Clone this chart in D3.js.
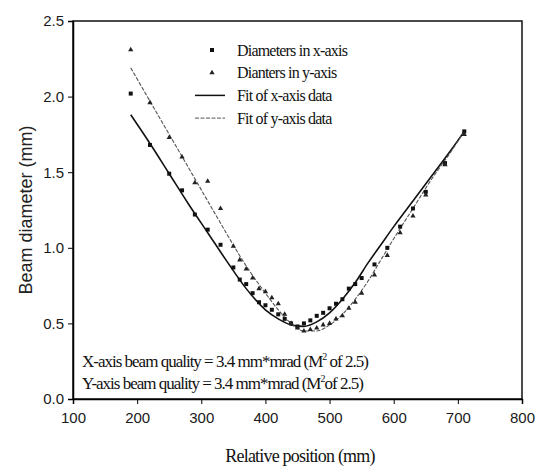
<!DOCTYPE html>
<html>
<head>
<meta charset="utf-8">
<script src="https://cdn.jsdelivr.net/npm/d3@7"></script>
<style>
  body { margin: 0; background: #fff; }
  .tick text { font-family: "Liberation Sans", Arial, sans-serif; font-size: 15px; fill: #1a1a1a; }
  .serif { font-family: "Liberation Serif", "Times New Roman", serif; fill: #111; }
</style>
</head>
<body>
<svg width="541" height="470"></svg>
<script>
// measured positions (mm) and diameters (mm)
var positions = [190,220,250,270,290,310,330,350,360,370,380,390,400,410,420,430,440,450,460,470,480,490,500,510,520,530,540,550,570,590,610,630,650,680,710];
var diamX = [2.02,1.68,1.49,1.38,1.22,1.12,1.02,0.87,0.79,0.76,0.70,0.64,0.62,0.59,0.56,0.53,0.50,0.48,0.50,0.52,0.55,0.57,0.60,0.63,0.66,0.73,0.76,0.80,0.89,1.00,1.14,1.26,1.37,1.56,1.77];
var diamY = [2.31,1.96,1.73,1.60,1.43,1.44,1.26,1.01,0.92,0.86,0.80,0.73,0.71,0.67,0.63,0.56,0.50,0.47,0.45,0.46,0.47,0.49,0.50,0.53,0.55,0.60,0.64,0.70,0.82,0.95,1.10,1.21,1.35,1.55,1.75];

// fit curves
var fitPos = [190,220,250,280,310,340,370,400,420,440,460,480,500,520,540,560,580,600,630,660,690,710];
var fitX = [1.88,1.69,1.49,1.29,1.10,0.91,0.73,0.59,0.53,0.49,0.48,0.51,0.57,0.66,0.77,0.90,1.02,1.14,1.31,1.48,1.65,1.77];
var fitY = [2.19,1.97,1.75,1.53,1.31,1.09,0.88,0.70,0.59,0.50,0.45,0.45,0.49,0.56,0.66,0.78,0.92,1.06,1.26,1.46,1.64,1.77];

var xTicks = [100,200,300,400,500,600,700,800];
var yTicks = [0.0,0.5,1.0,1.5,2.0,2.5];
var legendLabels = ["Diameters in x-axis", "Dianters in y-axis", "Fit of x-axis data", "Fit of y-axis data"];

var svg = d3.select("svg"),
    margin = {top: 21, right: 19, bottom: 71, left: 73},
    width = +svg.attr("width") - margin.left - margin.right,
    height = +svg.attr("height") - margin.top - margin.bottom,
    g = svg.append("g").attr("transform", "translate(" + margin.left + "," + margin.top + ")");

var x = d3.scaleLinear().domain([100, 800]).range([0, width]);
var y = d3.scaleLinear().domain([0, 2.5]).range([height, 0]);

// frame
g.append("rect")
    .attr("width", width)
    .attr("height", height)
    .attr("fill", "none")
    .attr("stroke", "#111")
    .attr("stroke-width", 1.5);

g.append("g")
    .attr("transform", "translate(0," + height + ")")
    .call(d3.axisBottom(x).tickValues(xTicks).tickSize(5).tickPadding(8).tickFormat(d3.format("d")))
    .call(function(a) { a.select(".domain").attr("stroke-width", 1.5); });

g.append("g")
    .call(d3.axisLeft(y).tickValues(yTicks).tickSize(5).tickPadding(4).tickFormat(d3.format(".1f")))
    .call(function(a) { a.select(".domain").attr("stroke-width", 1.5); });

var line = d3.line().curve(d3.curveMonotoneX);

g.append("path")
    .attr("d", line(fitPos.map(function(p, i) { return [x(p), y(fitX[i])]; })))
    .attr("fill", "none")
    .attr("stroke", "#111")
    .attr("stroke-width", 1.6);

g.append("path")
    .attr("d", line(fitPos.map(function(p, i) { return [x(p), y(fitY[i])]; })))
    .attr("fill", "none")
    .attr("stroke", "#555")
    .attr("stroke-width", 1.1)
    .attr("stroke-dasharray", "4,1.5");

var sq = d3.symbol().type(d3.symbolSquare).size(16);
var tri = d3.symbol().type(d3.symbolTriangle).size(12);

g.selectAll(".px").data(positions).enter().append("path")
    .attr("class", "px")
    .attr("d", sq)
    .attr("fill", "#111")
    .attr("transform", function(d, i) { return "translate(" + x(d) + "," + y(diamX[i]) + ")"; });

g.selectAll(".py").data(positions).enter().append("path")
    .attr("class", "py")
    .attr("d", tri)
    .attr("fill", "#222")
    .attr("transform", function(d, i) { return "translate(" + x(d) + "," + y(diamY[i]) + ")"; });

// legend
var legend = svg.append("g").attr("transform", "translate(212,50)");
legendLabels.forEach(function(t, i) {
  var row = legend.append("g").attr("transform", "translate(0," + (i * 22.7) + ")");
  if (i == 0) row.append("path").attr("d", sq).attr("fill", "#111");
  if (i == 1) row.append("path").attr("d", tri).attr("fill", "#222");
  if (i == 2) row.append("line").attr("x1", -17).attr("x2", 13).attr("stroke", "#111").attr("stroke-width", 1.5);
  if (i == 3) row.append("line").attr("x1", -17).attr("x2", 13).attr("stroke", "#777").attr("stroke-width", 1.1).attr("stroke-dasharray", "4,1.5");
  row.append("text")
      .attr("class", "serif")
      .attr("x", 25)
      .attr("dy", "0.35em")
      .style("font-size", "16px")
      .style("letter-spacing", "-0.8px")
      .text(t);
});

// beam quality notes
var notes = [["X-axis beam quality = 3.4 mm*mrad (M", " of 2.5)"], ["Y-axis beam quality = 3.4 mm*mrad (M", "of 2.5)"]];
notes.forEach(function(n, i) {
  var t = svg.append("text")
      .attr("class", "serif")
      .attr("x", 82)
      .attr("y", 367 + i * 22)
      .style("font-size", "17px")
      .style("letter-spacing", "-1px");
  t.append("tspan").text(n[0]);
  t.append("tspan").attr("dy", -7).style("font-size", "10px").text("2");
  t.append("tspan").attr("dy", 7).text(n[1]);
});

svg.append("text")
    .attr("transform", "translate(32," + (margin.top + height / 2) + ") rotate(-90)")
    .attr("text-anchor", "middle")
    .style("font-family", "'Liberation Sans', Arial, sans-serif")
    .style("font-size", "18px")
    .style("fill", "#222")
    .text("Beam diameter (mm)");

svg.append("text")
    .attr("class", "serif")
    .attr("x", 300)
    .attr("y", 462)
    .attr("text-anchor", "middle")
    .style("font-size", "18px")
    .style("letter-spacing", "-0.8px")
    .text("Relative position (mm)");
</script>
</body>
</html>
